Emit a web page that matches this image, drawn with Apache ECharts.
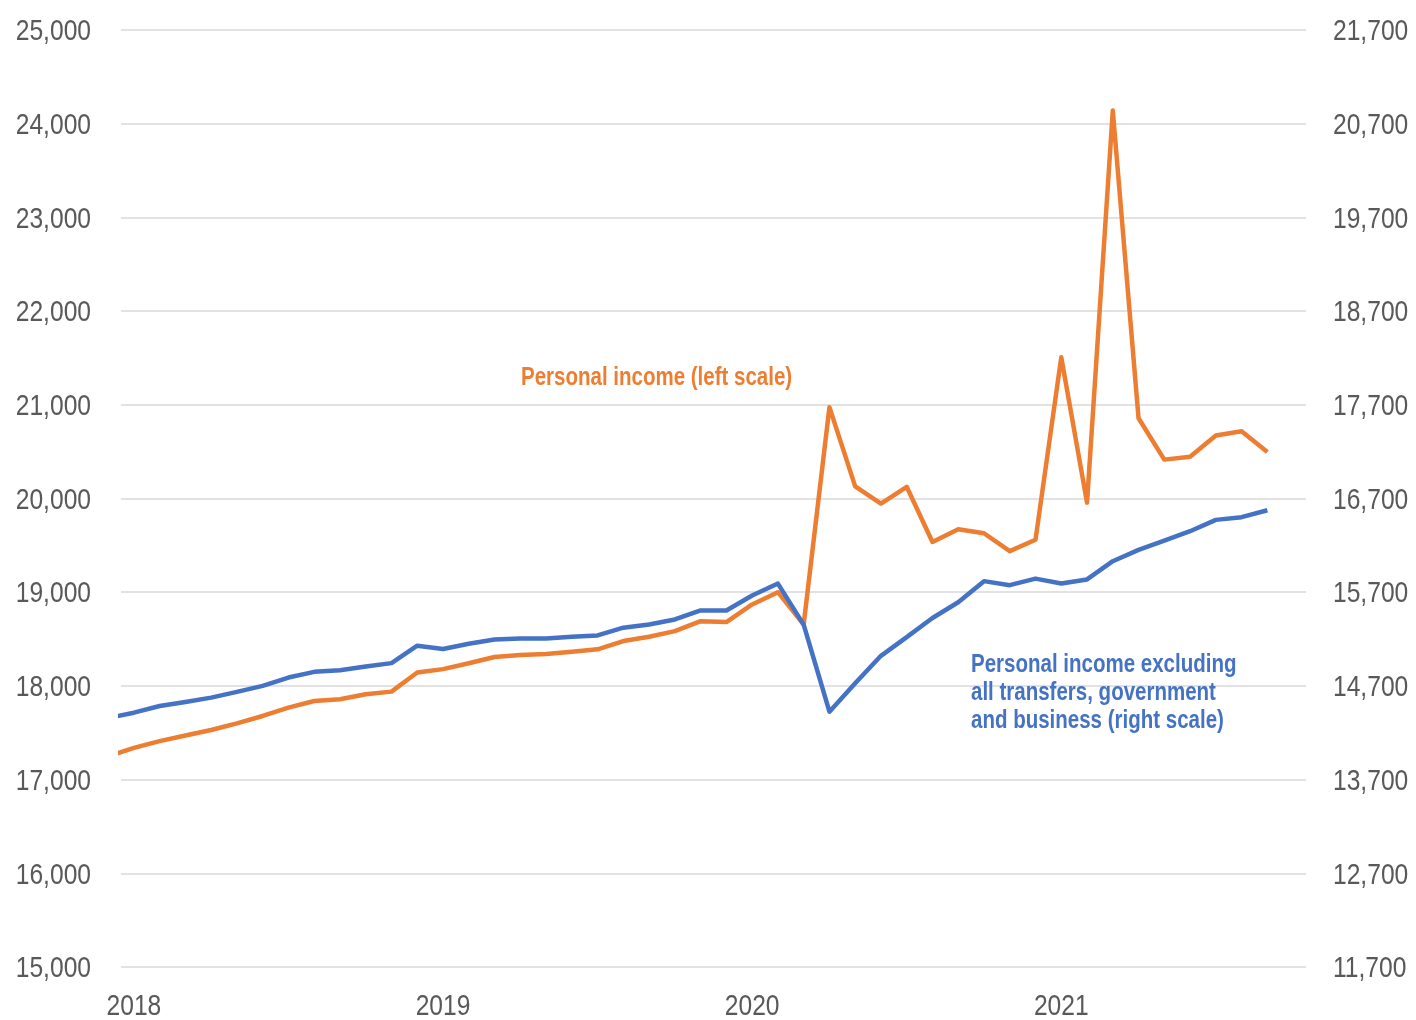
<!DOCTYPE html>
<html>
<head>
<meta charset="utf-8">
<title>Personal income</title>
<script src="https://cdn.jsdelivr.net/npm/echarts@6/dist/echarts.min.js"></script>
<style>
  html, body { margin: 0; padding: 0; background: #ffffff; }
  #chart { width: 1416px; height: 1020px; }
</style>
</head>
<body>
<div id="chart"></div>
<script>
// Monthly observations, Dec 2017 through Sep 2021 (index 0 = Jan 2018)
const startIndex = -1;

// Personal income (left scale)
const personalIncome = [
  17247,
  17339, 17411, 17471, 17529, 17600, 17679, 17768, 17839, 17857, 17911, 17939, 18143,
  18179, 18241, 18309, 18330, 18340, 18365, 18390, 18479, 18525, 18585, 18691, 18681,
  18869, 19000, 18654, 20975, 20129, 19946, 20125, 19536, 19671, 19629, 19438, 19560,
  21507, 19956, 24140, 20857, 20415, 20445, 20673, 20717, 20496
];

// Personal income excluding all transfers, government and business (right scale)
const incomeExTransfers = [
  14358,
  14414, 14486, 14529, 14575, 14636, 14700, 14789, 14850, 14868, 14907, 14943, 15129,
  15093, 15150, 15196, 15207, 15207, 15225, 15239, 15321, 15356, 15409, 15505, 15505,
  15665, 15792, 15354, 14425, 14729, 15021, 15221, 15425, 15593, 15818, 15775, 15845,
  15792, 15836, 16031, 16152, 16251, 16351, 16472, 16501, 16575
];

// Year labels placed at each January
const yearLabels = ['2018', '2019', '2020', '2021'];
const yearTickIndex = [0, 12, 24, 36];

// Axis tick values
const leftTicks = [15000, 16000, 17000, 18000, 19000, 20000, 21000, 22000, 23000, 24000, 25000];
const rightTicks = [11700, 12700, 13700, 14700, 15700, 16700, 17700, 18700, 19700, 20700, 21700];

const toPairs = arr => arr.map((v, i) => [startIndex + i, v]);

const fontFamily = '"Liberation Sans", Arial, sans-serif';
const narrow = 0.82;           // horizontal squeeze giving a condensed face
const labelColor = '#595959';
const orange = '#ED7D31';
const blue = '#4472C4';

const fmt = v => Math.round(v).toLocaleString('en-US');

const chart = echarts.init(document.getElementById('chart'), null, { renderer: 'canvas' });

chart.setOption({
  animation: false,
  backgroundColor: '#ffffff',
  grid: { left: 121, right: 110, top: 30, bottom: 53, outerBoundsMode: 'none' },
  xAxis: {
    type: 'value',
    min: -0.5,
    max: 45.5,
    axisLine: { show: false },
    axisTick: { show: false },
    splitLine: { show: false },
    axisLabel: { show: false }
  },
  yAxis: [
    {
      type: 'value',
      position: 'left',
      min: leftTicks[0],
      max: leftTicks[leftTicks.length - 1],
      interval: 1000,
      axisLine: { show: false },
      axisTick: { show: false },
      splitLine: { show: true, lineStyle: { color: '#D9D9D9', width: 1.5 } },
      axisLabel: { show: false }
    },
    {
      type: 'value',
      position: 'right',
      min: rightTicks[0],
      max: rightTicks[rightTicks.length - 1],
      axisLine: { show: false },
      axisTick: { show: false },
      splitLine: { show: false },
      axisLabel: { show: false }
    }
  ],
  series: [
    {
      name: 'Personal income (left scale)',
      type: 'line',
      yAxisIndex: 0,
      data: toPairs(personalIncome),
      showSymbol: false,
      clip: true,
      lineStyle: { color: orange, width: 4.5, join: 'round' },
      itemStyle: { color: orange },
      z: 3
    },
    {
      name: 'Personal income excluding all transfers, government and business (right scale)',
      type: 'line',
      yAxisIndex: 1,
      data: toPairs(incomeExTransfers),
      showSymbol: false,
      clip: true,
      lineStyle: { color: blue, width: 4.5, join: 'round' },
      itemStyle: { color: blue },
      z: 4
    }
  ]
});

// Tick labels and annotations in a condensed face, positioned through the axes
const gridRect = chart.getModel().getComponent('grid').coordinateSystem.getRect();
const labels = [];

const tickText = (text, x, y, align) => ({
  type: 'text',
  x: x,
  y: y,
  scaleX: narrow,
  silent: true,
  style: {
    text: text,
    fill: labelColor,
    font: '30px ' + fontFamily,
    textAlign: align,
    textVerticalAlign: 'middle'
  }
});

leftTicks.forEach(v => {
  const y = chart.convertToPixel({ yAxisIndex: 0 }, v);
  labels.push(tickText(fmt(v), gridRect.x - 30, y + 2, 'right'));
});
rightTicks.forEach(v => {
  const y = chart.convertToPixel({ yAxisIndex: 1 }, v);
  labels.push(tickText(fmt(v), gridRect.x + gridRect.width + 27, y + 2, 'left'));
});
yearTickIndex.forEach((m, k) => {
  const x = chart.convertToPixel({ xAxisIndex: 0 }, m);
  labels.push(tickText(yearLabels[k], x, gridRect.y + gridRect.height + 40, 'center'));
});

const noteText = (text, x, y, color) => ({
  type: 'text',
  x: x,
  y: y,
  scaleX: narrow,
  silent: true,
  style: {
    text: text,
    fill: color,
    font: 'bold 25px ' + fontFamily,
    lineHeight: 28,
    textAlign: 'left',
    textVerticalAlign: 'top'
  }
});

labels.push(noteText('Personal income (left scale)', 521, 364, orange));
labels.push(noteText('Personal income excluding\nall transfers, government\nand business (right scale)', 971, 651, blue));

chart.setOption({ graphic: labels });
</script>
</body>
</html>
